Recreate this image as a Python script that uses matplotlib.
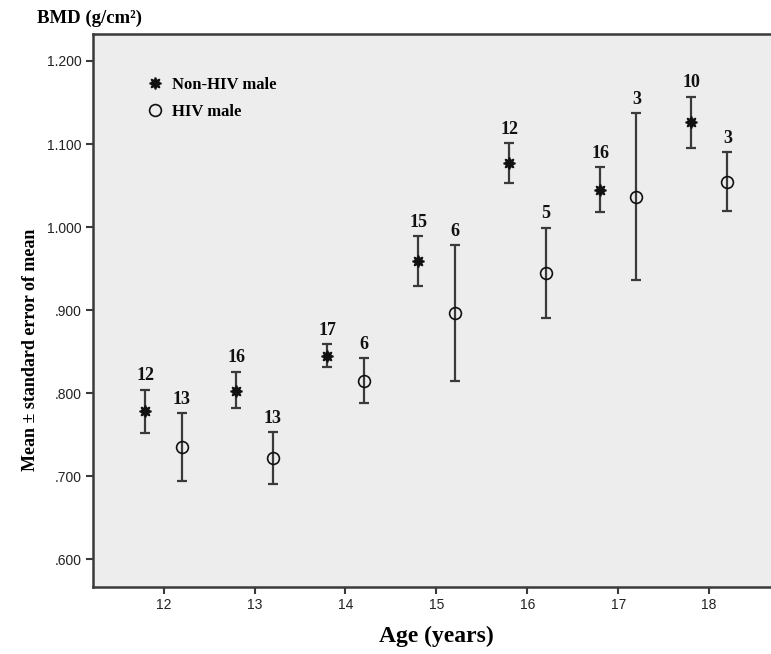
import numpy as np
import matplotlib.pyplot as plt

ages = np.array([12, 13, 14, 15, 16, 17, 18])

# Non-HIV male: mean, lower and upper end of the SE bar, n
non_mean = [0.778, 0.803, 0.845, 0.959, 1.077, 1.045, 1.126]
non_low = [0.752, 0.782, 0.832, 0.929, 1.053, 1.018, 1.095]
non_high = [0.804, 0.826, 0.859, 0.989, 1.101, 1.072, 1.157]
non_n = [12, 16, 17, 15, 12, 16, 10]

# HIV male
hiv_mean = [0.735, 0.722, 0.815, 0.896, 0.945, 1.036, 1.054]
hiv_low = [0.694, 0.690, 0.788, 0.815, 0.891, 0.936, 1.019]
hiv_high = [0.776, 0.753, 0.842, 0.978, 0.999, 1.137, 1.090]
hiv_n = [13, 13, 6, 6, 5, 3, 3]

yticks = [0.6, 0.7, 0.8, 0.9, 1.0, 1.1, 1.2]
ytick_labels = [".600", ".700", ".800", ".900", "1.000", "1.100", "1.200"]

serif = "Liberation Serif"
sans = "Liberation Sans"
edge = "#3a3a3a"

fig = plt.figure(figsize=(7.71, 6.54), dpi=100)
ax = fig.add_axes([0.12, 0.103, 0.88, 0.845])
ax.set_facecolor("#ededed")


def draw_group(x, mean, low, high, counts, marker, face, label):
    mean = np.asarray(mean)
    err = [mean - np.asarray(low), np.asarray(high) - mean]
    ax.errorbar(x, mean, yerr=err, fmt="none", ecolor=edge, elinewidth=1.6,
                capsize=3.5, capthick=1.6, zorder=2)
    ax.plot(x, mean, linestyle="none", marker=marker, markersize=8.5,
            markerfacecolor=face, markeredgecolor="#111111",
            markeredgewidth=1.2, label=label, zorder=3)
    for xi, top, n in zip(x, high, counts):
        ax.annotate(str(n), (xi, top), xytext=(0, 4), textcoords="offset points",
                    ha="center", va="bottom", fontsize=13, fontweight="bold",
                    family=serif, color="#111111")


draw_group(ages - 0.2, non_mean, non_low, non_high, non_n, (8, 1, 0),
           "#111111", "Non-HIV male")
draw_group(ages + 0.2, hiv_mean, hiv_low, hiv_high, hiv_n, "o",
           "none", "HIV male")

ax.set_xlim(11.218, 18.68)
ax.set_ylim(0.567, 1.2325)
ax.set_xticks(ages)
ax.set_yticks(yticks)
ax.set_yticklabels(ytick_labels)
for lab in ax.get_xticklabels() + ax.get_yticklabels():
    lab.set_family(sans)
    lab.set_fontsize(10)
    lab.set_color("#222222")
ax.tick_params(direction="out", length=5, width=1.5, color=edge, pad=3)

for side in ["left", "bottom", "top"]:
    ax.spines[side].set_color(edge)
    ax.spines[side].set_linewidth(1.8)
ax.spines["right"].set_visible(False)

leg = ax.legend(loc="upper left", bbox_to_anchor=(0.065, 0.935), frameon=False,
                handlelength=1.4, handletextpad=0.3, labelspacing=0.7,
                borderaxespad=0,
                prop={"family": serif, "weight": "bold", "size": 12})

fig.text(0.040, 0.465, "Mean \u00b1 standard error of mean", rotation=90,
         ha="center", va="center", family=serif, fontweight="bold", fontsize=13)
fig.text(0.566, 0.027, "Age (years)", ha="center", va="center", family=serif,
         fontweight="bold", fontsize=17)
fig.text(0.048, 0.972, "BMD (g/cm\u00b2)", ha="left", va="center", family=serif,
         fontweight="bold", fontsize=13.5)

fig.savefig("out.png", dpi=100)
